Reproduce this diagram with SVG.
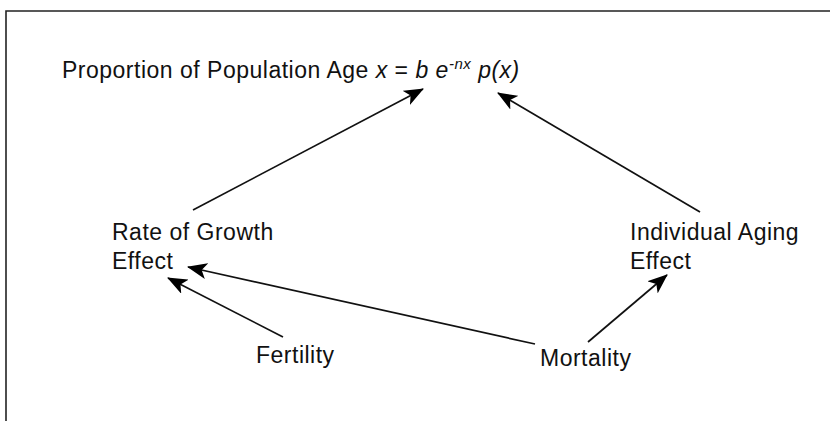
<svg xmlns="http://www.w3.org/2000/svg" width="830" height="421" viewBox="0 0 830 421">
<defs>
<marker id="ah" viewBox="0 0 20 16" refX="19" refY="8" markerWidth="20" markerHeight="16" markerUnits="userSpaceOnUse" orient="auto">
<path d="M0,0 L20,8 L0,16 L5,8 Z" fill="#000"/>
</marker>
<style>
text{font-family:"Liberation Sans",Arial,sans-serif;font-size:23px;letter-spacing:0.5px;fill:#111}
.i{font-style:italic}
.c{stroke:#111;stroke-width:1.7;fill:none;marker-end:url(#ah)}
</style>
</defs>
<rect width="830" height="421" fill="#fff"/>
<path d="M6,421 V11 H830" fill="none" stroke="#222" stroke-width="1.6"/>
<g id="title"><text x="62" y="78">Proportion of Population Age <tspan class="i">x</tspan> = <tspan class="i">b e</tspan><tspan class="i" font-size="15" dy="-9">-nx</tspan><tspan class="i" dy="9"> p(x)</tspan></text></g>
<g id="growth"><text x="112" y="240">Rate of Growth</text><text x="112" y="269">Effect</text></g>
<g id="aging"><text x="630" y="240">Individual Aging</text><text x="630" y="269">Effect</text></g>
<g id="fertility"><text x="256" y="363">Fertility</text></g>
<g id="mortality"><text x="540" y="366">Mortality</text></g>
<g id="connectors">
<line class="c" x1="193" y1="210" x2="423" y2="89"/>
<line class="c" x1="700" y1="212" x2="498" y2="93"/>
<line class="c" x1="535" y1="344" x2="188" y2="267"/>
<line class="c" x1="283" y1="337" x2="168" y2="278"/>
<line class="c" x1="588" y1="342" x2="667" y2="275"/>
</g>
</svg>
